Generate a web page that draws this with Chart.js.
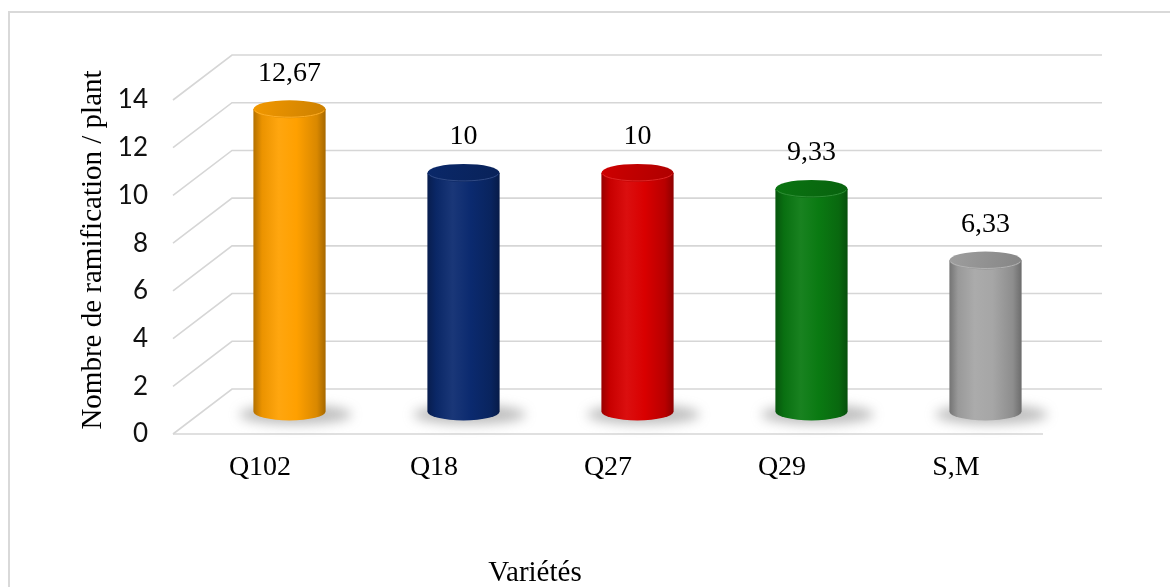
<!DOCTYPE html>
<html>
<head>
<meta charset="utf-8">
<script src="https://cdn.jsdelivr.net/npm/chart.js@4.4.1/dist/chart.umd.min.js"></script>
<style>
  html, body { margin: 0; padding: 0; background: #fff; }
  #wrap { position: relative; width: 1170px; height: 587px; }
</style>
</head>
<body>
<div id="wrap"><canvas id="chart" width="1170" height="587"></canvas></div>
<script>
var varietes = ['Q102', 'Q18', 'Q27', 'Q29', 'S,M'];
var ramifications = [12.67, 10, 10, 9.33, 6.33];
var couleurs = ['#FFA000', '#0B2A6F', '#D90000', '#0A7A12', '#A6A6A6'];
var yTicks = [0, 2, 4, 6, 8, 10, 12, 14];

// depth of the fake 3d box (back wall offset from the front plane)
var DEPTH_X = 59, DEPTH_Y = -45;
var GRID = '#d6d6d6';
var SERIF = '"Liberation Serif", "Times New Roman", serif';

function shade(hex, f) {
  var n = parseInt(hex.slice(1), 16);
  var r = (n >> 16) & 255, g = (n >> 8) & 255, b = n & 255;
  function c(v) {
    v = f < 0 ? v * (1 + f) : v + (255 - v) * f;
    return Math.round(Math.max(0, Math.min(255, v)));
  }
  return 'rgb(' + c(r) + ',' + c(g) + ',' + c(b) + ')';
}

function fmt(v) {
  return String(v).replace('.', ',');
}

// walls, left side diagonals, floor
var boxPlugin = {
  id: 'box3d',
  beforeDatasetsDraw: function (chart) {
    var ctx = chart.ctx, a = chart.chartArea, y = chart.scales.y;
    ctx.save();
    // outer frame
    ctx.strokeStyle = '#d9d9d9';
    ctx.lineWidth = 2;
    ctx.beginPath();
    ctx.moveTo(9, 600);
    ctx.lineTo(9, 12);
    ctx.lineTo(1180, 12);
    ctx.stroke();

    ctx.strokeStyle = GRID;
    ctx.lineWidth = 1.6;
    yTicks.forEach(function (v) {
      var py = y.getPixelForValue(v);
      ctx.beginPath();
      ctx.moveTo(a.left, py);
      ctx.lineTo(a.left + DEPTH_X, py + DEPTH_Y);
      ctx.lineTo(a.right + DEPTH_X, py + DEPTH_Y);
      ctx.stroke();
    });
    // front edge of the floor
    ctx.beginPath();
    ctx.moveTo(a.left, a.bottom);
    ctx.lineTo(a.right, a.bottom);
    ctx.stroke();
    ctx.restore();
  }
};

// cylinders drawn at mid depth from the bar elements
var cylinderPlugin = {
  id: 'cylinders',
  afterDatasetsDraw: function (chart) {
    var ctx = chart.ctx;
    var meta = chart.getDatasetMeta(0);
    var dx = DEPTH_X / 2, dy = DEPTH_Y / 2;
    meta.data.forEach(function (bar, i) {
      var col = couleurs[i];
      var cx = bar.x + dx;
      var rx = bar.width / 2;
      var ry = 9;
      var top = bar.y + dy;
      var base = bar.base + dy;
      var left = cx - rx, right = cx + rx;

      ctx.save();
      // floor shadow
      ctx.save();
      ctx.filter = 'blur(6px)';
      ctx.fillStyle = 'rgba(110,110,110,0.45)';
      ctx.beginPath();
      ctx.ellipse(cx + 6, base + 3, rx + 20, ry + 1, 0, 0, Math.PI * 2);
      ctx.fill();
      ctx.restore();

      // body
      var g = ctx.createLinearGradient(left, 0, right, 0);
      g.addColorStop(0, shade(col, -0.3));
      g.addColorStop(0.12, shade(col, -0.08));
      g.addColorStop(0.35, shade(col, 0.06));
      g.addColorStop(0.6, col);
      g.addColorStop(0.88, shade(col, -0.15));
      g.addColorStop(1, shade(col, -0.35));
      ctx.fillStyle = g;
      ctx.beginPath();
      ctx.moveTo(left, top);
      ctx.lineTo(left, base);
      ctx.ellipse(cx, base, rx, ry, 0, Math.PI, 0, true);
      ctx.lineTo(right, top);
      ctx.closePath();
      ctx.fill();

      // cap
      var gt = ctx.createLinearGradient(left, top - ry, right, top + ry);
      gt.addColorStop(0, shade(col, -0.05));
      gt.addColorStop(1, shade(col, -0.2));
      ctx.fillStyle = gt;
      ctx.beginPath();
      ctx.ellipse(cx, top, rx, ry, 0, 0, Math.PI * 2);
      ctx.fill();
      ctx.strokeStyle = shade(col, 0.15);
      ctx.lineWidth = 1;
      ctx.beginPath();
      ctx.ellipse(cx, top, rx - 1, ry - 1, 0, 0.15, Math.PI - 0.15);
      ctx.stroke();

      // value label
      ctx.fillStyle = '#000';
      ctx.font = '28px ' + SERIF;
      ctx.textAlign = 'center';
      ctx.textBaseline = 'middle';
      ctx.fillText(fmt(ramifications[i]), cx, top - 36);
      ctx.restore();
    });
  }
};

// axis titles
var titlesPlugin = {
  id: 'titres',
  afterDraw: function (chart) {
    var ctx = chart.ctx;
    ctx.save();
    ctx.fillStyle = '#000';
    ctx.font = '29px ' + SERIF;
    ctx.textAlign = 'center';
    ctx.textBaseline = 'middle';
    ctx.fillText('Variétés', 535, 573);
    ctx.translate(93, 250);
    ctx.rotate(-Math.PI / 2);
    ctx.fillText('Nombre de ramification / plant', 0, 0);
    ctx.restore();
  }
};

var ctx = document.getElementById('chart').getContext('2d');
var chart = new Chart(ctx, {
  type: 'bar',
  data: {
    labels: varietes,
    datasets: [{
      data: ramifications,
      backgroundColor: 'rgba(0,0,0,0)',
      borderWidth: 0,
      categoryPercentage: 1,
      barPercentage: 0.415
    }]
  },
  options: {
    responsive: false,
    animation: false,
    events: [],
    layout: { padding: { left: 0, right: 127, top: 100, bottom: 0 } },
    plugins: { legend: { display: false }, tooltip: { enabled: false } },
    scales: {
      x: {
        grid: { display: false, drawTicks: false },
        border: { display: false },
        ticks: {
          color: '#000',
          padding: 17,
          maxRotation: 0,
          font: { family: SERIF, size: 28 }
        },
        afterFit: function (scale) { scale.height = 153; }
      },
      y: {
        min: 0,
        max: 14,
        grid: { display: false, drawTicks: false },
        border: { display: false },
        ticks: {
          stepSize: 2,
          color: '#111',
          padding: 25,
          font: { family: 'Lato, "Open Sans", sans-serif', size: 26 }
        },
        afterFit: function (scale) { scale.width = 173; }
      }
    }
  },
  plugins: [boxPlugin, cylinderPlugin, titlesPlugin]
});
</script>
</body>
</html>
